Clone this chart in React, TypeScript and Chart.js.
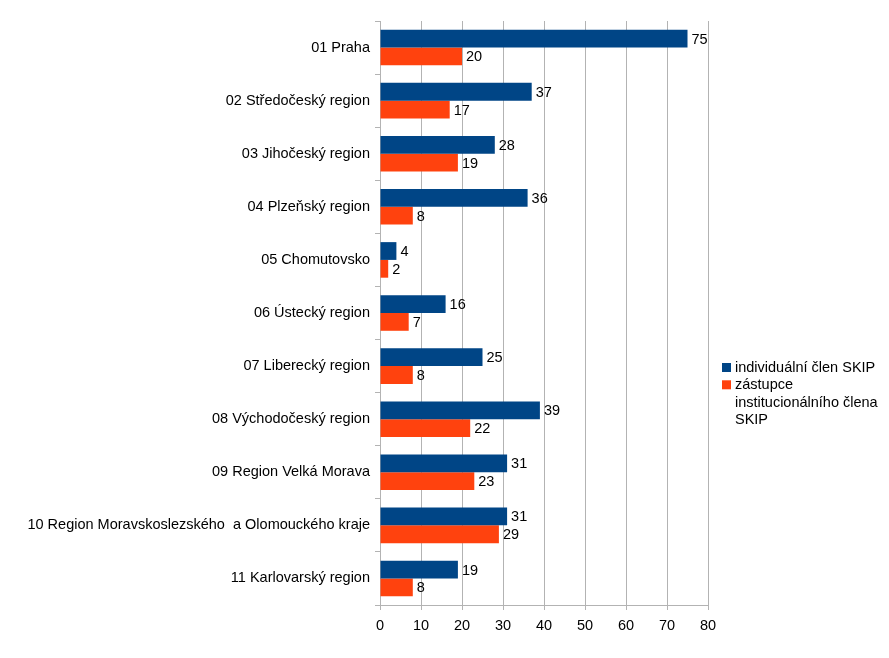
import React, { useEffect, useRef } from "react";
import { Chart, registerables } from "chart.js";

Chart.register(...registerables);

const categories = [
  "01 Praha",
  "02 Středočeský region",
  "03 Jihočeský region",
  "04 Plzeňský region",
  "05 Chomutovsko",
  "06 Ústecký region",
  "07 Liberecký region",
  "08 Východočeský region",
  "09 Region Velká Morava",
  "10 Region Moravskoslezského  a Olomouckého kraje",
  "11 Karlovarský region",
];
const individual = [75, 37, 28, 36, 4, 16, 25, 39, 31, 31, 19];
const institutional = [20, 17, 19, 8, 2, 7, 8, 22, 23, 29, 8];
const seriesNames = ["individuální člen SKIP", "zástupce institucionálního člena SKIP"];
const legendLines = [["individuální člen SKIP"], ["zástupce", "institucionálního člena", "SKIP"]];
const colors = ["#004586", "#ff420e"];
const FONT = "'Liberation Sans', Arial, sans-serif";
const FS = 14.5;

const valueLabels = {
  id: "valueLabels",
  afterDatasetsDraw(chart: any) {
    const ctx = chart.ctx;
    ctx.save();
    ctx.font = `${FS}px ${FONT}`;
    ctx.fillStyle = "#000";
    ctx.textAlign = "left";
    ctx.textBaseline = "middle";
    chart.data.datasets.forEach((ds: any, di: number) => {
      const meta = chart.getDatasetMeta(di);
      meta.data.forEach((bar: any, i: number) => {
        ctx.fillText(String(ds.data[i]), bar.x + 4, bar.y + 1);
      });
    });
    ctx.restore();
  },
};

const customLegend = {
  id: "customLegend",
  afterDraw(chart: any) {
    const ctx = chart.ctx;
    ctx.save();
    ctx.font = `${FS}px ${FONT}`;
    ctx.textBaseline = "middle";
    ctx.textAlign = "left";
    const x0 = 722;
    let y = 368;
    const lh = 17.3;
    legendLines.forEach((lines, i) => {
      ctx.fillStyle = colors[i];
      ctx.fillRect(x0, y - 5, 9, 9);
      ctx.fillStyle = "#000";
      lines.forEach((ln, k) => {
        ctx.fillText(ln, x0 + 13, y + k * lh);
      });
      y += lines.length * lh;
    });
    ctx.restore();
  },
};

export default function App() {
  const ref = useRef<HTMLCanvasElement>(null);
  useEffect(() => {
    if (!ref.current) return;
    const chart = new Chart(ref.current, {
      type: "bar",
      data: {
        labels: categories,
        datasets: [
          { label: seriesNames[0], data: individual, backgroundColor: colors[0], categoryPercentage: 0.67, barPercentage: 1 },
          { label: seriesNames[1], data: institutional, backgroundColor: colors[1], categoryPercentage: 0.67, barPercentage: 1 },
        ],
      },
      options: {
        indexAxis: "y",
        animation: false,
        responsive: false,
        maintainAspectRatio: false,
        layout: { padding: { top: 21, right: 181, left: 0, bottom: 0 } },
        plugins: { legend: { display: false }, tooltip: { enabled: false } },
        scales: {
          x: {
            min: 0,
            max: 80,
            ticks: { stepSize: 10, color: "#000", font: { family: FONT, size: FS }, padding: 7 },
            grid: { color: "#b3b3b3", tickLength: 5, drawTicks: true },
            border: { color: "#b3b3b3" },
            afterFit: (s: any) => { s.height = 53; },
          },
          y: {
            ticks: { color: "#000", font: { family: FONT, size: FS }, padding: 5, autoSkip: false },
            grid: { offset: true, drawOnChartArea: false, color: "#b3b3b3", tickLength: 5 },
            border: { color: "#b3b3b3" },
            afterFit: (s: any) => { s.width = 380; },
          },
        },
      },
      plugins: [valueLabels, customLegend],
    });
    return () => chart.destroy();
  }, []);
  return (
    <div style={{ position: "fixed", left: 0, top: 0, width: 889, height: 658, background: "#fff" }}>
      <canvas ref={ref} width={889} height={658} />
    </div>
  );
}
